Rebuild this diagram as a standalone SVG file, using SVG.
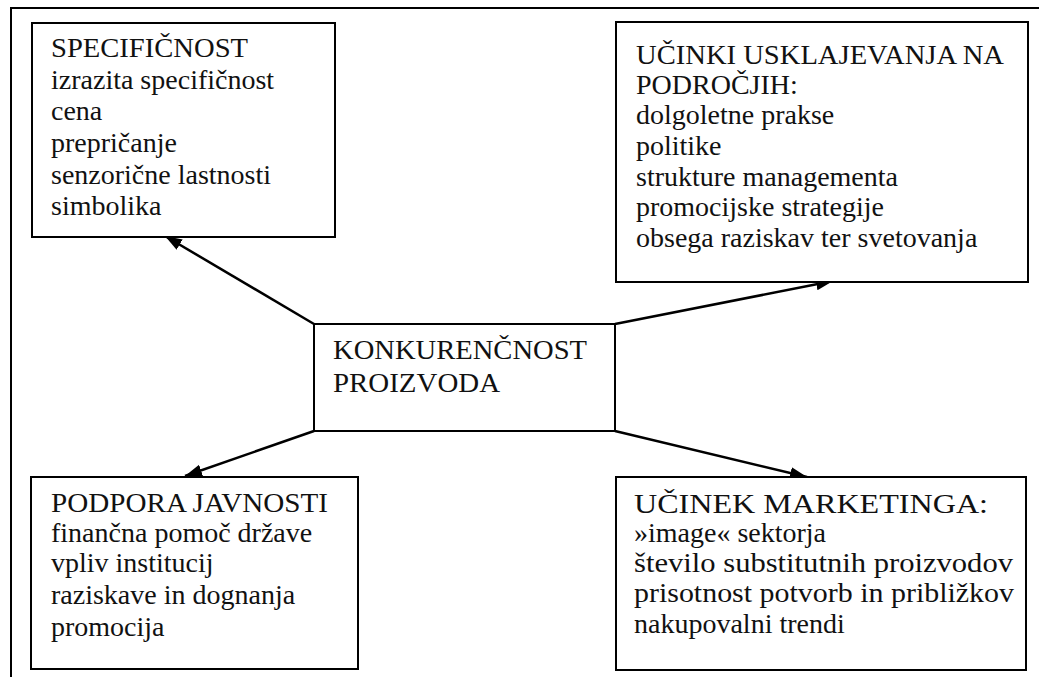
<svg xmlns="http://www.w3.org/2000/svg" width="1039" height="677" viewBox="0 0 1039 677">
<style>
.box{fill:#fff;stroke:#000;stroke-width:2}
.t{font-family:"Liberation Serif","Times New Roman",serif;font-size:28px;fill:#111}
.frame{fill:none;stroke:#000;stroke-width:2}
.con{stroke:#000;stroke-width:2.5;fill:none}
</style>
<defs>
<marker id="ah" markerUnits="userSpaceOnUse" markerWidth="18" markerHeight="14" refX="17" refY="7" orient="auto">
<path d="M0,1 L17,7 L0,13 Z" fill="#000"/>
</marker>
</defs>
<rect width="1039" height="677" fill="#fff"/>
<path class="frame" d="M11,677 V8 H1039"/>
<g id="connectors">
<line class="con" x1="314" y1="324" x2="165" y2="236" marker-end="url(#ah)"/>
<line class="con" x1="615" y1="324" x2="833" y2="281" marker-end="url(#ah)"/>
<line class="con" x1="314" y1="431" x2="185" y2="476" marker-end="url(#ah)"/>
<line class="con" x1="615" y1="431" x2="807" y2="477" marker-end="url(#ah)"/>
</g>
<g id="specificnost">
<rect class="box" x="32" y="23" width="303" height="214"/>
<text class="t" x="51" y="57" textLength="197" lengthAdjust="spacingAndGlyphs">SPECIFIČNOST</text>
<text class="t" x="51" y="89">izrazita specifičnost</text>
<text class="t" x="51" y="120">cena</text>
<text class="t" x="51" y="152">prepričanje</text>
<text class="t" x="51" y="184">senzorične lastnosti</text>
<text class="t" x="51" y="215">simbolika</text>
</g>
<g id="ucinki">
<rect class="box" x="616" y="22" width="412" height="260"/>
<text class="t" x="636" y="64" textLength="368" lengthAdjust="spacingAndGlyphs">UČINKI USKLAJEVANJA NA</text>
<text class="t" x="636" y="94">PODROČJIH:</text>
<text class="t" x="636" y="124">dolgoletne prakse</text>
<text class="t" x="636" y="155">politike</text>
<text class="t" x="636" y="186">strukture managementa</text>
<text class="t" x="636" y="216">promocijske strategije</text>
<text class="t" x="636" y="247">obsega raziskav ter svetovanja</text>
</g>
<g id="konkurencnost">
<rect class="box" x="314" y="324" width="301" height="107"/>
<text class="t" x="333" y="359" textLength="254" lengthAdjust="spacingAndGlyphs">KONKURENČNOST</text>
<text class="t" x="333" y="392" textLength="167" lengthAdjust="spacingAndGlyphs">PROIZVODA</text>
</g>
<g id="podpora">
<rect class="box" x="31" y="477" width="327" height="192"/>
<text class="t" x="51" y="512" textLength="277" lengthAdjust="spacingAndGlyphs">PODPORA JAVNOSTI</text>
<text class="t" x="51" y="542">finančna pomoč države</text>
<text class="t" x="51" y="572">vpliv institucij</text>
<text class="t" x="51" y="604">raziskave in dognanja</text>
<text class="t" x="51" y="636">promocija</text>
</g>
<g id="marketing">
<rect class="box" x="616" y="477" width="410" height="193"/>
<text class="t" x="634" y="513" textLength="354" lengthAdjust="spacingAndGlyphs">UČINEK MARKETINGA:</text>
<text class="t" x="634" y="542">»image« sektorja</text>
<text class="t" x="634" y="572" textLength="379" lengthAdjust="spacingAndGlyphs">število substitutnih proizvodov</text>
<text class="t" x="634" y="602" textLength="380" lengthAdjust="spacingAndGlyphs">prisotnost potvorb in približkov</text>
<text class="t" x="634" y="633">nakupovalni trendi</text>
</g>
</svg>
